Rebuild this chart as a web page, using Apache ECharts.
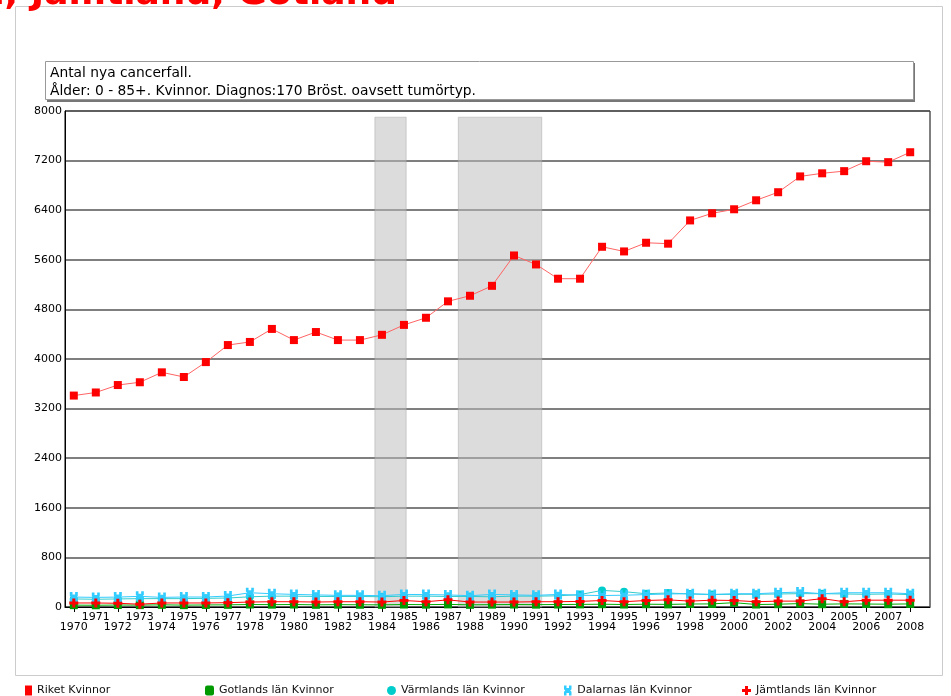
<!DOCTYPE html>
<html>
<head>
<meta charset="utf-8">
<script src="https://cdn.jsdelivr.net/npm/echarts@6/dist/echarts.min.js"></script>
<style>
html,body{margin:0;padding:0;background:#fff;}
#chart{width:951px;height:696px;}
</style>
</head>
<body>
<div id="chart"></div>
<script>
// ---- data ----
var years = [];
for (var y = 1970; y <= 2008; y++) years.push(y);

var seriesNames = ['Riket Kvinnor', 'Gotlands län Kvinnor', 'Värmlands län Kvinnor', 'Dalarnas län Kvinnor', 'Jämtlands län Kvinnor'];

var riket = [3410,3460,3580,3625,3785,3710,3950,4225,4275,4485,4305,4435,4305,4305,4390,4550,4665,4930,5020,5180,
             5670,5525,5295,5295,5810,5735,5875,5860,6235,6350,6415,6560,6690,6945,6995,7030,7190,7175,7335];
var gotland = [30,28,32,30,35,30,33,35,40,38,40,35,38,36,35,40,38,42,35,38,
               40,38,40,42,45,40,45,42,48,50,70,40,45,55,45,50,48,45,50];
var varmland = [130,125,130,135,135,135,140,145,165,175,175,170,170,170,165,175,175,170,170,165,
                175,175,180,200,268,247,214,226,210,200,205,205,210,215,215,210,205,210,200];
var dalarna = [160,155,160,172,155,161,161,177,230,214,203,195,188,188,182,203,200,195,182,203,
               195,188,203,190,185,190,200,210,214,203,214,214,230,241,214,230,230,230,214];
var jamtland = [65,65,60,45,65,65,65,70,80,85,85,80,85,85,80,105,85,115,80,80,
                80,85,85,90,105,85,105,115,95,110,105,85,95,95,135,85,110,110,110];

var oddYears = years.filter(function (v) { return v % 2 === 1; });
var evenYears = years.filter(function (v) { return v % 2 === 0; });

var shadedPeriods = [[1983.68, 1985.1], [1987.47, 1991.26]];
var shadeTop = 7900;

var titleText = 'Riket, Värmlands län, Dalarnas län, Jämtland, Gotland';
var subtitleLines = ['Antal nya cancerfall.', 'Ålder: 0 - 85+. Kvinnor. Diagnos:170 Bröst. oavsett tumörtyp.'];

// ---- styling ----
var colors = ['#ff0000', '#009900', '#00cccc', '#33ccff', '#ff0000'];
var lineColors = ['#ff6464', '#00aa00', '#33cccc', '#33ccff', '#ff0000'];
var plusPath = 'path://M2,0 H4 V2 H6 V4 H4 V6 H2 V4 H0 V2 H2 Z';
var xPath = 'path://M0,0 H2 V2 H4 V0 H6 V3 L5,4 L6,5 V8 H4 V6 H2 V8 H0 V5 L1,4 L0,3 Z';
var symbols = ['rect', 'rect', 'circle', xPath, plusPath];
var symbolSizes = [8, 8, 8, [8, 10], 9];
var dataSets = [riket, gotland, varmland, dalarna, jamtland];
var font = 'DejaVu Sans';

function pairs(arr) { return arr.map(function (v, i) { return [years[i], v]; }); }

var series = dataSets.map(function (d, i) {
  return {
    name: seriesNames[i],
    type: 'line',
    data: pairs(d),
    symbol: symbols[i],
    symbolSize: symbolSizes[i],
    showAllSymbol: true,
    itemStyle: { color: colors[i], opacity: 1 },
    lineStyle: { color: lineColors[i], width: 1 },
    emphasis: { disabled: true },
    z: 2 + i * 0.01,
    animation: false
  };
});

series.push({
  name: 'shade',
  type: 'line',
  data: [],
  z: 10,
  silent: true,
  animation: false,
  markArea: {
    silent: true,
    itemStyle: { color: 'rgba(188,188,188,0.52)', borderColor: 'rgba(160,160,160,0.45)', borderWidth: 1 },
    data: shadedPeriods.map(function (p) { return [{ xAxis: p[0], yAxis: 0 }, { xAxis: p[1], yAxis: shadeTop }]; })
  }
});

var legendLefts = [20, 200, 382, 559, 737];
var legends = seriesNames.map(function (n, i) {
  return {
    data: [{ name: n, icon: i === 3 ? xPath : (i === 4 ? plusPath : (i === 2 ? 'circle' : (i === 1 ? 'roundRect' : 'rect'))) }],
    left: legendLefts[i],
    top: 680,
    itemWidth: i === 0 ? 7 : 9,
    itemHeight: 10,
    itemGap: 0,
    selectedMode: false,
    textStyle: { fontFamily: font, fontSize: 11, color: '#111' }
  };
});

function xAxisFor(labelYears, margin, withLine) {
  return {
    type: 'value',
    position: 'bottom',
    min: 1969.6,
    max: 2008.9,
    axisLine: { show: withLine, onZero: false, lineStyle: { color: '#000', width: 1 } },
    axisTick: { show: withLine, length: 5, lineStyle: { color: '#000' }, customValues: evenYears },
    splitLine: { show: false },
    axisLabel: {
      customValues: labelYears,
      showMinLabel: true,
      showMaxLabel: true,
      hideOverlap: false,
      margin: margin,
      fontFamily: font,
      fontSize: 11,
      color: '#000',
      verticalAlign: 'top',
      formatter: function (v) { return String(v); }
    }
  };
}

var chart = echarts.init(document.getElementById('chart'), null, { renderer: 'canvas' });
chart.setOption({
  animation: false,
  backgroundColor: '#ffffff',
  graphic: [
    { type: 'rect', shape: { x: 15.5, y: 6.5, width: 927, height: 669 }, style: { fill: '#fff', stroke: '#cccccc', lineWidth: 1 }, z: -10 },
    { type: 'text', x: 397, y: 13, style: { text: titleText, fill: '#ff0000', font: 'bold 36px "DejaVu Sans"', textAlign: 'right', textVerticalAlign: 'bottom' }, z: 5 },
    { type: 'rect', shape: { x: 47, y: 63, width: 868, height: 39 }, style: { fill: '#777', stroke: null }, z: 1 },
    { type: 'rect', shape: { x: 45.5, y: 61.5, width: 868, height: 38 }, style: { fill: '#fff', stroke: '#999', lineWidth: 1 }, z: 2 },
    { type: 'text', x: 50, y: 64, style: { text: subtitleLines.join('\n'), fill: '#000', font: '13.8px "DejaVu Sans"', lineHeight: 18 }, z: 3 }
  ],
  legend: legends,
  grid: { left: 65, right: 21, top: 111, bottom: 89, show: true, borderColor: '#000', borderWidth: 1, backgroundColor: '#fff' },
  xAxis: [xAxisFor(oddYears, 5, true), xAxisFor(evenYears, 15, false)],
  yAxis: {
    type: 'value',
    min: 0,
    max: 8000,
    interval: 800,
    axisLine: { show: true, lineStyle: { color: '#000' } },
    axisTick: { show: false },
    axisLabel: { fontFamily: font, fontSize: 11, color: '#000', margin: 3, formatter: function (v) { return String(v); } },
    splitLine: { show: true, lineStyle: { color: '#555', width: 1.6 } }
  },
  series: series
});
</script>
</body>
</html>
